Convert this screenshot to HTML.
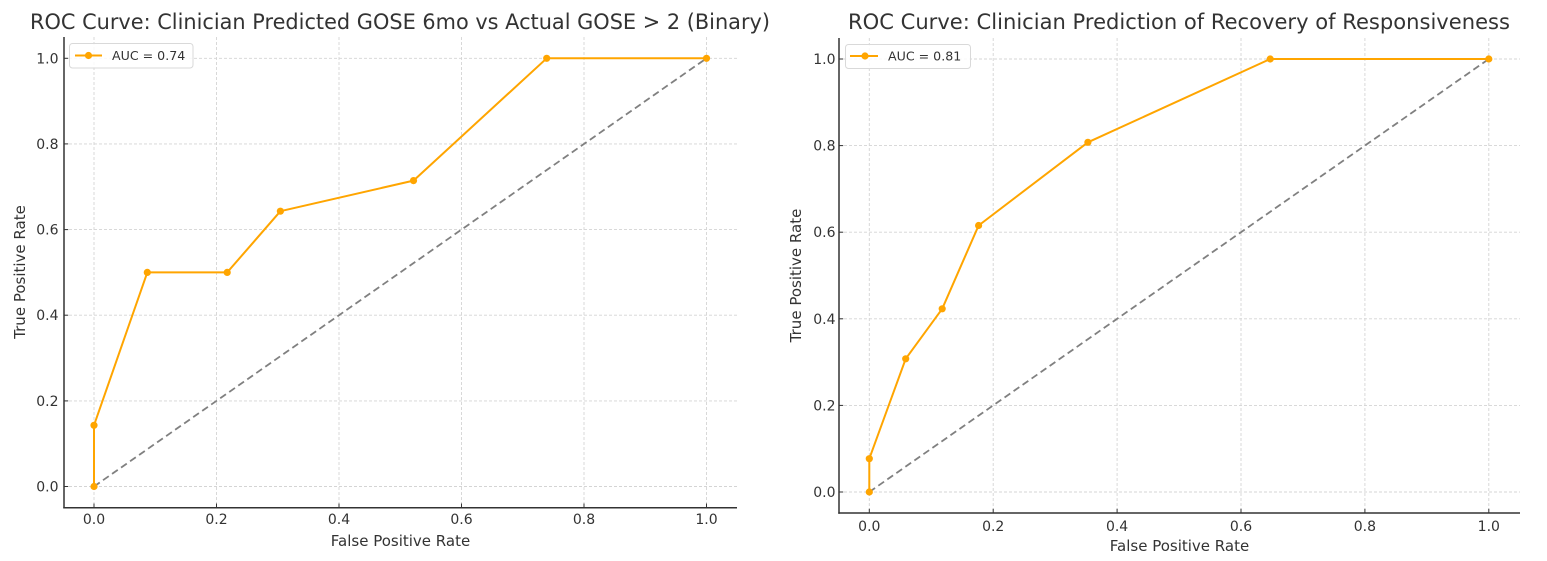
<!DOCTYPE html>
<html><head><meta charset="utf-8"><style>
html,body{margin:0;padding:0;background:#fff;}
svg{display:block;}
text{font-family:"DejaVu Sans","Liberation Sans",sans-serif;fill:#333;}
</style></head><body>
<svg width="1547" height="561" viewBox="0 0 1547 561" xmlns="http://www.w3.org/2000/svg">
<rect width="1547" height="561" fill="#fff"/>

<!-- ============ LEFT CHART ============ -->
<g>
<!-- grid -->
<g stroke="#d4d4d4" stroke-width="0.9" stroke-dasharray="3,2" fill="none">
<line x1="94" y1="37" x2="94" y2="507.7"/>
<line x1="216.5" y1="37" x2="216.5" y2="507.7"/>
<line x1="339" y1="37" x2="339" y2="507.7"/>
<line x1="461.5" y1="37" x2="461.5" y2="507.7"/>
<line x1="584" y1="37" x2="584" y2="507.7"/>
<line x1="706.5" y1="37" x2="706.5" y2="507.7"/>
<line x1="64" y1="486.5" x2="737" y2="486.5"/>
<line x1="64" y1="400.9" x2="737" y2="400.9"/>
<line x1="64" y1="315.2" x2="737" y2="315.2"/>
<line x1="64" y1="229.6" x2="737" y2="229.6"/>
<line x1="64" y1="143.9" x2="737" y2="143.9"/>
<line x1="64" y1="58.3" x2="737" y2="58.3"/>
</g>
<!-- diagonal -->
<line x1="94" y1="486.5" x2="706.5" y2="58.3" stroke="#808080" stroke-width="1.8" stroke-dasharray="7,4"/>
<!-- ROC -->
<polyline points="94,486.5 94,425.3 147.3,272.4 227.2,272.4 280.4,211.2 413.5,180.6 546.7,58.3 706.5,58.3" fill="none" stroke="#FFA500" stroke-width="2" stroke-linejoin="round"/>
<g fill="#FFA500">
<circle cx="94" cy="486.5" r="3.6"/><circle cx="94" cy="425.3" r="3.6"/><circle cx="147.3" cy="272.4" r="3.6"/><circle cx="227.2" cy="272.4" r="3.6"/><circle cx="280.4" cy="211.2" r="3.6"/><circle cx="413.5" cy="180.6" r="3.6"/><circle cx="546.7" cy="58.3" r="3.6"/><circle cx="706.5" cy="58.3" r="3.6"/>
</g>
<!-- spines -->
<g stroke="#333" stroke-width="1.5" fill="none">
<line x1="64" y1="37" x2="64" y2="508.4"/>
<line x1="63.3" y1="507.7" x2="737" y2="507.7"/>
</g>
<!-- ticks -->
<g stroke="#333" stroke-width="1">
<line x1="94" y1="507.7" x2="94" y2="503.5"/><line x1="216.5" y1="507.7" x2="216.5" y2="503.5"/><line x1="339" y1="507.7" x2="339" y2="503.5"/><line x1="461.5" y1="507.7" x2="461.5" y2="503.5"/><line x1="584" y1="507.7" x2="584" y2="503.5"/><line x1="706.5" y1="507.7" x2="706.5" y2="503.5"/>
<line x1="64" y1="486.5" x2="68.2" y2="486.5"/><line x1="64" y1="400.9" x2="68.2" y2="400.9"/><line x1="64" y1="315.2" x2="68.2" y2="315.2"/><line x1="64" y1="229.6" x2="68.2" y2="229.6"/><line x1="64" y1="143.9" x2="68.2" y2="143.9"/><line x1="64" y1="58.3" x2="68.2" y2="58.3"/>
</g>
<!-- tick labels -->
<g font-size="14" text-anchor="middle">
<text x="94" y="524">0.0</text><text x="216.5" y="524">0.2</text><text x="339" y="524">0.4</text><text x="461.5" y="524">0.6</text><text x="584" y="524">0.8</text><text x="706.5" y="524">1.0</text>
</g>
<g font-size="14" text-anchor="end">
<text x="58.5" y="491.5">0.0</text><text x="58.5" y="405.9">0.2</text><text x="58.5" y="320.2">0.4</text><text x="58.5" y="234.6">0.6</text><text x="58.5" y="148.9">0.8</text><text x="58.5" y="63.3">1.0</text>
</g>
<!-- labels -->
<text x="400.5" y="546" font-size="15" text-anchor="middle">False Positive Rate</text>
<text x="25" y="272" font-size="15" text-anchor="middle" transform="rotate(-90 25 272)">True Positive Rate</text>
<text x="30" y="29" font-size="21.5" textLength="740" lengthAdjust="spacingAndGlyphs">ROC Curve: Clinician Predicted GOSE 6mo vs Actual GOSE &gt; 2 (Binary)</text>
<!-- legend -->
<rect x="69.5" y="43.5" width="123.5" height="24.5" rx="3" fill="#fff" fill-opacity="0.85" stroke="#d9d9d9" stroke-width="1"/>
<line x1="75" y1="55.5" x2="102" y2="55.5" stroke="#FFA500" stroke-width="2"/>
<circle cx="88.5" cy="55.5" r="3.6" fill="#FFA500"/>
<text x="112" y="60" font-size="12.6">AUC = 0.74</text>
</g>

<!-- ============ RIGHT CHART ============ -->
<g>
<g stroke="#d4d4d4" stroke-width="0.9" stroke-dasharray="3,2" fill="none">
<line x1="869.3" y1="38" x2="869.3" y2="513"/>
<line x1="993.2" y1="38" x2="993.2" y2="513"/>
<line x1="1117.1" y1="38" x2="1117.1" y2="513"/>
<line x1="1241" y1="38" x2="1241" y2="513"/>
<line x1="1364.9" y1="38" x2="1364.9" y2="513"/>
<line x1="1488.8" y1="38" x2="1488.8" y2="513"/>
<line x1="839" y1="492" x2="1520" y2="492"/>
<line x1="839" y1="405.4" x2="1520" y2="405.4"/>
<line x1="839" y1="318.8" x2="1520" y2="318.8"/>
<line x1="839" y1="232.2" x2="1520" y2="232.2"/>
<line x1="839" y1="145.6" x2="1520" y2="145.6"/>
<line x1="839" y1="59" x2="1520" y2="59"/>
</g>
<line x1="869.3" y1="492" x2="1488.8" y2="59" stroke="#808080" stroke-width="1.8" stroke-dasharray="7,4"/>
<polyline points="869.3,492 869.3,458.7 905.7,358.8 942.2,308.8 978.6,225.5 1087.9,142.3 1270.2,59 1488.8,59" fill="none" stroke="#FFA500" stroke-width="2" stroke-linejoin="round"/>
<g fill="#FFA500">
<circle cx="869.3" cy="492" r="3.6"/><circle cx="869.3" cy="458.7" r="3.6"/><circle cx="905.7" cy="358.8" r="3.6"/><circle cx="942.2" cy="308.8" r="3.6"/><circle cx="978.6" cy="225.5" r="3.6"/><circle cx="1087.9" cy="142.3" r="3.6"/><circle cx="1270.2" cy="59" r="3.6"/><circle cx="1488.8" cy="59" r="3.6"/>
</g>
<g stroke="#333" stroke-width="1.5" fill="none">
<line x1="839" y1="38" x2="839" y2="513.7"/>
<line x1="838.3" y1="513" x2="1520" y2="513"/>
</g>
<g stroke="#333" stroke-width="1">
<line x1="869.3" y1="513" x2="869.3" y2="508.8"/><line x1="993.2" y1="513" x2="993.2" y2="508.8"/><line x1="1117.1" y1="513" x2="1117.1" y2="508.8"/><line x1="1241" y1="513" x2="1241" y2="508.8"/><line x1="1364.9" y1="513" x2="1364.9" y2="508.8"/><line x1="1488.8" y1="513" x2="1488.8" y2="508.8"/>
<line x1="839" y1="492" x2="843.2" y2="492"/><line x1="839" y1="405.4" x2="843.2" y2="405.4"/><line x1="839" y1="318.8" x2="843.2" y2="318.8"/><line x1="839" y1="232.2" x2="843.2" y2="232.2"/><line x1="839" y1="145.6" x2="843.2" y2="145.6"/><line x1="839" y1="59" x2="843.2" y2="59"/>
</g>
<g font-size="14" text-anchor="middle">
<text x="869.3" y="531">0.0</text><text x="993.2" y="531">0.2</text><text x="1117.1" y="531">0.4</text><text x="1241" y="531">0.6</text><text x="1364.9" y="531">0.8</text><text x="1488.8" y="531">1.0</text>
</g>
<g font-size="14" text-anchor="end">
<text x="835.5" y="497">0.0</text><text x="835.5" y="410.4">0.2</text><text x="835.5" y="323.8">0.4</text><text x="835.5" y="237.2">0.6</text><text x="835.5" y="150.6">0.8</text><text x="835.5" y="64">1.0</text>
</g>
<text x="1179.5" y="551" font-size="15" text-anchor="middle">False Positive Rate</text>
<text x="801" y="275.5" font-size="15" text-anchor="middle" transform="rotate(-90 801 275.5)">True Positive Rate</text>
<text x="848" y="29" font-size="21.5" textLength="662" lengthAdjust="spacingAndGlyphs">ROC Curve: Clinician Prediction of Recovery of Responsiveness</text>
<rect x="845.5" y="44.5" width="125" height="24" rx="3" fill="#fff" fill-opacity="0.85" stroke="#d9d9d9" stroke-width="1"/>
<line x1="850" y1="56" x2="878" y2="56" stroke="#FFA500" stroke-width="2"/>
<circle cx="865" cy="56" r="3.6" fill="#FFA500"/>
<text x="888" y="60.5" font-size="12.6">AUC = 0.81</text>
</g>
</svg>
</body></html>
